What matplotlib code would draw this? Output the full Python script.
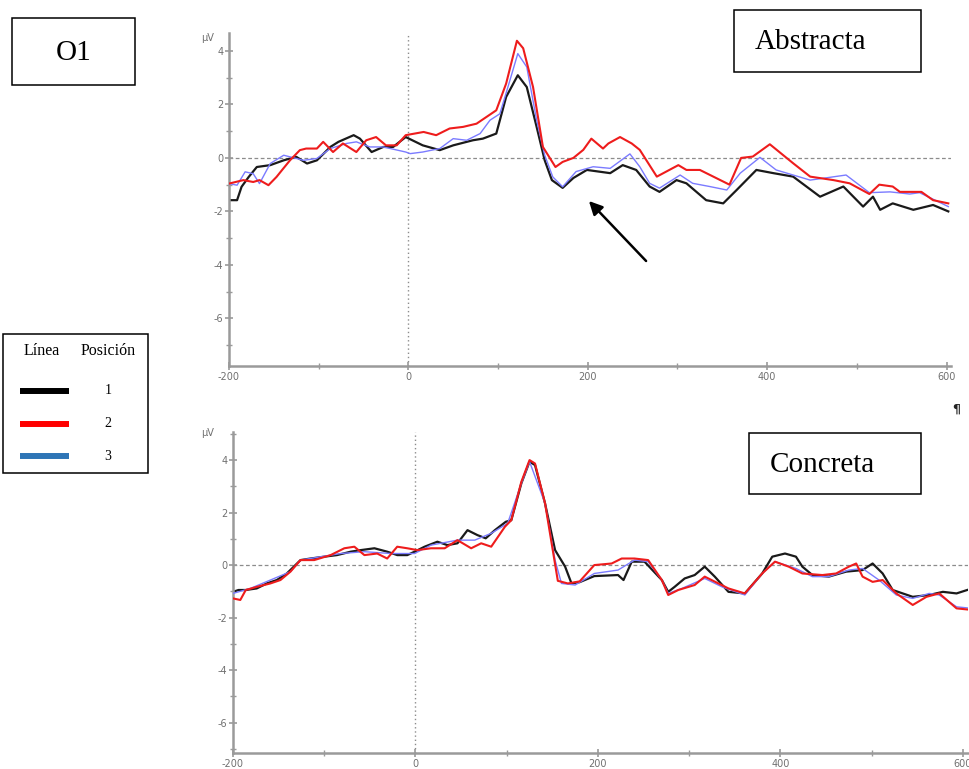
import matplotlib
matplotlib.use("Agg")
import matplotlib.pyplot as plt
from matplotlib.patches import Rectangle
from matplotlib.ticker import MultipleLocator

plt.rcParams["axes.unicode_minus"] = False

# ---- data (ms, µV) ----
abs_t1 = [-200, -191, -186, -178, -169, -154, -139, -125, -113, -102, -87, -78, -61, -54, -41, -28,
          -17, -3, 16, 35, 50, 72, 83, 98, 109, 122, 132, 143, 152, 160, 172, 184, 199, 225, 239, 254,
          269, 280, 299, 310, 332, 351, 366, 388, 407, 429, 459, 485, 507, 518, 526, 540, 563, 585, 602]
abs_v1 = [-1.58, -1.58, -1.08, -0.71, -0.34, -0.27, -0.09, 0.04, -0.21, -0.09, 0.41, 0.60, 0.85, 0.72,
          0.22, 0.41, 0.41, 0.78, 0.47, 0.29, 0.47, 0.66, 0.72, 0.91, 2.28, 3.09, 2.65, 1.16, -0.09, -0.83,
          -1.12, -0.75, -0.45, -0.57, -0.27, -0.45, -1.07, -1.27, -0.83, -0.95, -1.58, -1.70, -1.20, -0.45,
          -0.57, -0.70, -1.45, -1.07, -1.82, -1.45, -1.94, -1.70, -1.94, -1.76, -2.00]

abs_t2 = [-200, -184, -173, -166, -156, -147, -141, -132, -121, -114, -102, -95, -84, -73, -58, -47,
          -36, -25, -13, -3, 17, 31, 46, 61, 76, 87, 98, 109, 121, 128, 139, 150, 164, 172, 184, 195,
          204, 217, 223, 236, 249, 258, 277, 301, 310, 325, 358, 371, 384, 403, 429, 448, 474, 492,
          514, 525, 540, 548, 572, 585, 602]
abs_v2 = [-0.96, -0.83, -0.90, -0.83, -1.02, -0.71, -0.46, -0.09, 0.29, 0.35, 0.35, 0.60, 0.22, 0.54,
          0.22, 0.66, 0.78, 0.47, 0.47, 0.85, 0.97, 0.85, 1.10, 1.16, 1.28, 1.53, 1.78, 2.78, 4.38, 4.10,
          2.65, 0.41, -0.34, -0.15, 0.00, 0.30, 0.72, 0.35, 0.54, 0.78, 0.54, 0.30, -0.70, -0.27, -0.45,
          -0.45, -1.00, 0.00, 0.05, 0.51, -0.20, -0.70, -0.83, -0.95, -1.35, -1.00, -1.07, -1.27, -1.27,
          -1.58, -1.70]

abs_t3 = [-200, -191, -182, -173, -166, -154, -139, -132, -117, -102, -87, -69, -58, -43, -28, -3,
          2, 16, 35, 50, 65, 80, 91, 102, 111, 122, 132, 143, 152, 161, 172, 187, 206, 225, 247, 258,
          269, 280, 303, 317, 336, 355, 370, 392, 410, 429, 448, 488, 514, 537, 559, 570, 602]
abs_v3 = [-0.96, -1.02, -0.52, -0.59, -0.96, -0.21, 0.10, 0.04, -0.09, -0.02, 0.35, 0.54, 0.60, 0.41,
          0.41, 0.22, 0.16, 0.22, 0.35, 0.72, 0.66, 0.91, 1.41, 1.65, 2.65, 3.90, 3.40, 1.41, 0.10, -0.71,
          -1.08, -0.51, -0.33, -0.39, 0.15, -0.33, -0.95, -1.13, -0.64, -0.95, -1.07, -1.20, -0.57, 0.02,
          -0.45, -0.64, -0.83, -0.64, -1.30, -1.27, -1.35, -1.30, -1.82]

con_t1 = [-200, -194, -186, -174, -163, -152, -141, -126, -115, -100, -86, -71, -60, -45, -31, -20,
          -9, -1, 10, 24, 35, 46, 57, 68, 77, 87, 99, 105, 116, 125, 131, 142, 153, 164, 171, 180, 196,
          222, 228, 237, 251, 270, 277, 284, 295, 306, 317, 328, 343, 361, 380, 391, 405, 417, 424, 435,
          453, 472, 490, 501, 512, 523, 545, 563, 578, 593, 610]
con_v1 = [-1.02, -0.95, -0.95, -0.89, -0.70, -0.57, -0.32, 0.19, 0.25, 0.32, 0.38, 0.51, 0.57, 0.64,
          0.51, 0.38, 0.38, 0.51, 0.70, 0.89, 0.76, 0.83, 1.33, 1.14, 1.02, 1.33, 1.65, 1.71, 3.11, 3.94,
          3.81, 2.35, 0.57, -0.06, -0.70, -0.65, -0.42, -0.38, -0.57, 0.13, 0.13, -0.57, -1.02, -0.83,
          -0.51, -0.38, -0.06, -0.44, -1.02, -1.08, -0.32, 0.32, 0.44, 0.32, -0.06, -0.38, -0.44, -0.25,
          -0.19, 0.06, -0.32, -0.95, -1.21, -1.14, -1.02, -1.08, -0.89]

con_t2 = [-200, -192, -186, -174, -159, -148, -137, -126, -111, -93, -78, -67, -56, -42, -31, -20,
          -9, 2, 17, 32, 46, 61, 72, 83, 98, 105, 116, 125, 131, 142, 156, 167, 180, 196, 215, 226, 240,
          255, 270, 277, 288, 306, 317, 332, 343, 361, 380, 394, 409, 424, 446, 461, 475, 483, 490, 501,
          512, 527, 545, 560, 574, 593, 610]
con_v2 = [-1.27, -1.33, -0.95, -0.83, -0.70, -0.57, -0.25, 0.19, 0.19, 0.38, 0.64, 0.70, 0.38, 0.44,
          0.25, 0.70, 0.64, 0.57, 0.64, 0.64, 0.95, 0.64, 0.83, 0.70, 1.46, 1.71, 3.17, 4.00, 3.87, 2.35,
          -0.60, -0.70, -0.62, 0.00, 0.06, 0.25, 0.25, 0.19, -0.57, -1.14, -0.95, -0.76, -0.44, -0.70,
          -0.89, -1.08, -0.32, 0.13, -0.06, -0.32, -0.38, -0.32, -0.06, 0.06, -0.44, -0.64, -0.57, -1.08,
          -1.52, -1.21, -1.08, -1.65, -1.71]

con_t3 = [-200, -181, -137, -126, -82, -56, -27, -1, 17, 46, 65, 83, 101, 116, 125, 142, 153, 160,
          175, 196, 222, 240, 255, 270, 277, 292, 317, 336, 361, 380, 394, 417, 435, 453, 475, 490, 508,
          527, 545, 563, 574, 593, 610]
con_v3 = [-1.08, -0.89, -0.25, 0.19, 0.44, 0.51, 0.44, 0.44, 0.76, 0.95, 0.95, 1.21, 1.59, 3.11, 3.94,
          2.35, 0.19, -0.70, -0.76, -0.32, -0.19, 0.19, 0.13, -0.57, -1.08, -0.89, -0.51, -0.83, -1.14,
          -0.32, 0.13, -0.13, -0.44, -0.44, -0.19, -0.13, -0.57, -1.14, -1.27, -1.08, -1.14, -1.59, -1.65]

x_ticks = [-200, 0, 200, 400, 600]
y_ticks = [4, 2, 0, -2, -4, -6]
positions = ["1", "2", "3"]
legend_colors = ["black", "#ff0000", "#2e75b6"]

W, H = 969, 769
fig = plt.figure(figsize=(W / 100, H / 100), dpi=100)
fig.patch.set_facecolor("white")


def px_axes(x0, y0, x1, y1):
    return fig.add_axes([x0 / W, 1 - y1 / H, (x1 - x0) / W, (y1 - y0) / H])


def style_erp(ax, ylim):
    ax.set_xlim(-200, 605)
    ax.set_ylim(*ylim)
    for s in ["top", "right"]:
        ax.spines[s].set_visible(False)
    for s in ["left", "bottom"]:
        ax.spines[s].set_color("#9a9a9a")
        ax.spines[s].set_linewidth(1.8)
    ax.set_xticks(x_ticks)
    ax.set_yticks(y_ticks)
    ax.xaxis.set_minor_locator(MultipleLocator(100))
    ax.yaxis.set_minor_locator(MultipleLocator(1))
    ax.tick_params(which="both", direction="inout", colors="#9a9a9a", labelcolor="#707070",
                   labelsize=7, pad=1)
    ax.tick_params(which="major", length=6, width=1.2)
    ax.tick_params(which="minor", length=4, width=1.0)
    ax.axhline(0, color="#8c8c8c", lw=0.9, ls=(0, (3, 2)), zorder=1)
    ax.axvline(0, color="#8c8c8c", lw=1.0, ls=(0, (1, 2)), zorder=1)
    ax.patch.set_alpha(0)


top = px_axes(229, 33, 951, 366)
style_erp(top, (-7.78, 4.67))
top.plot(abs_t3, abs_v3, color="#7b7bff", lw=1.0, zorder=3)
top.plot(abs_t2, abs_v2, color="#ee1c1c", lw=1.5, zorder=4)
top.plot(abs_t1, abs_v1, color="#1a1a1a", lw=1.6, zorder=2)

bot = px_axes(233, 432, 967.5, 753)
style_erp(bot, (-7.16, 5.07))
bot.plot(con_t3, con_v3, color="#7b7bff", lw=1.0, zorder=3)
bot.plot(con_t2, con_v2, color="#ee1c1c", lw=1.5, zorder=4)
bot.plot(con_t1, con_v1, color="#1a1a1a", lw=1.6, zorder=2)

# ---- overlay in pixel coordinates for boxes, legend, arrow ----
ov = fig.add_axes([0, 0, 1, 1], zorder=10)
ov.set_xlim(0, W)
ov.set_ylim(H, 0)
ov.axis("off")
ov.patch.set_alpha(0)

serif = "Liberation Serif"
ov.text(208, 38, "µV", fontsize=7, color="#707070", ha="center", va="center")
ov.text(208, 433, "µV", fontsize=7, color="#707070", ha="center", va="center")


def box(x0, y0, x1, y1):
    ov.add_patch(Rectangle((x0, y0), x1 - x0, y1 - y0, fill=False, ec="black", lw=1.1))


box(12, 18, 135, 85)
ov.text(74, 53, "O1", fontsize=21, family=serif, ha="center", va="center")
box(734, 10, 921, 72)
ov.text(755, 42, "Abstracta", fontsize=21, family=serif, ha="left", va="center")
box(749, 433, 921, 494)
ov.text(770, 465, "Concreta", fontsize=21, family=serif, ha="left", va="center")

box(3, 334, 148, 473)
ov.text(42, 351, "Línea", fontsize=11.5, family=serif, ha="center", va="center")
ov.text(108, 351, "Posición", fontsize=11.5, family=serif, ha="center", va="center")
for i, (lab, col) in enumerate(zip(positions, legend_colors)):
    yy = 391 + i * 32.5
    ov.plot([20, 69], [yy, yy], color=col, lw=4.3, solid_capstyle="butt")
    ov.text(108, yy, lab, fontsize=10, family=serif, ha="center", va="center")

ov.text(956, 409, "¶", fontsize=9, color="#222222", ha="center", va="center", fontweight="bold")

ov.annotate("", xy=(587, 199), xytext=(648, 263),
            arrowprops=dict(arrowstyle="-|>", color="black", lw=1.8, mutation_scale=20))

fig.savefig("out.png", dpi=100)
